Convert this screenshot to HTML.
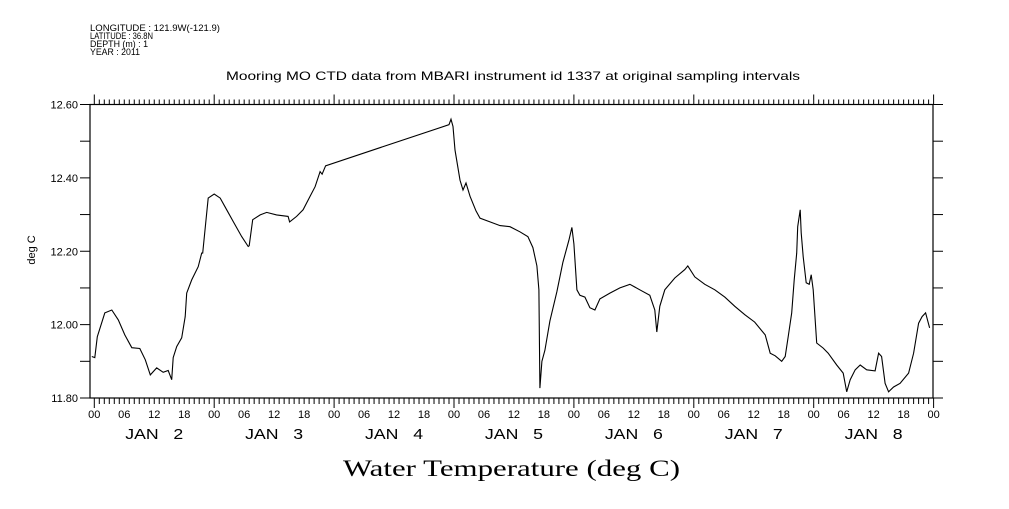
<!DOCTYPE html>
<html><head><meta charset="utf-8"><style>
body{margin:0;background:#fff;}
svg text{font-family:"Liberation Sans",sans-serif;fill:#000;}
</style></head><body>
<svg id="chart" width="1009" height="504" xmlns="http://www.w3.org/2000/svg">
<g>
<text x="90" y="31" textLength="130" lengthAdjust="spacingAndGlyphs" style="font-size:9px">LONGITUDE : 121.9W(-121.9)</text>
<text x="90" y="39" textLength="63" lengthAdjust="spacingAndGlyphs" style="font-size:9px">LATITUDE : 36.8N</text>
<text x="90" y="47" textLength="58" lengthAdjust="spacingAndGlyphs" style="font-size:9px">DEPTH (m) : 1</text>
<text x="90" y="55" textLength="50" lengthAdjust="spacingAndGlyphs" style="font-size:9px">YEAR : 2011</text>
</g>
<text x="226" y="80" textLength="574" lengthAdjust="spacingAndGlyphs" style="font-size:12px">Mooring MO CTD data from MBARI instrument id 1337 at original sampling intervals</text>
<text transform="translate(35,250) rotate(-90)" text-anchor="middle" style="font-size:11px">deg C</text>
<text x="343" y="476" textLength="337" lengthAdjust="spacingAndGlyphs" style="font-family:'Liberation Serif',serif;font-size:23px">Water Temperature (deg C)</text>
<g id="axes"></g>
<g id="marks"></g>
</svg>
<script>
const hours=[-0.5,0.1,0.6,2.1,3.5,4.8,6.1,7.5,9.1,10.2,11.2,12.5,13.8,14.8,15.5,15.8,16.5,17.5,18.2,18.5,19.5,20.8,21.5,21.7,22.3,22.8,24.0,25.2,26.5,27.8,29.5,30.8,31.0,31.7,33.2,34.5,36.5,38.8,39.1,40.5,41.8,43.2,44.2,45.2,45.6,46.3,71.0,71.4,71.8,72.2,73.2,73.8,74.4,75.2,76.4,77.2,79.2,81.2,83.2,85.2,86.8,87.8,88.6,89.0,89.2,89.6,90.2,91.2,92.6,93.8,95.0,95.6,96.0,96.6,97.2,98.2,99.2,100.2,101.2,103.2,105.2,107.2,109.2,111.2,112.2,112.6,113.2,114.2,116.2,118.2,118.8,120.2,122.2,124.2,126.2,128.2,130.2,132.2,134.3,135.3,136.3,137.6,138.3,138.9,139.6,140.1,140.6,140.8,141.3,141.5,141.9,142.5,143.1,143.5,143.9,144.6,145.9,146.9,148.6,149.9,150.6,151.3,152.3,153.3,154.6,156.3,157.0,157.6,158.3,159.0,160.0,161.3,163.0,164.0,165.0,165.7,166.4,167.2];
const temps=[11.913,11.91,11.967,12.032,12.04,12.013,11.972,11.937,11.935,11.904,11.863,11.882,11.87,11.875,11.85,11.91,11.94,11.964,12.022,12.086,12.122,12.158,12.195,12.195,12.277,12.345,12.356,12.345,12.313,12.281,12.24,12.213,12.215,12.286,12.299,12.306,12.299,12.295,12.28,12.295,12.313,12.35,12.376,12.417,12.41,12.433,12.545,12.56,12.54,12.476,12.394,12.367,12.386,12.35,12.31,12.29,12.28,12.27,12.267,12.253,12.24,12.21,12.16,12.095,11.827,11.9,11.93,12.01,12.09,12.17,12.23,12.265,12.22,12.095,12.08,12.075,12.046,12.04,12.07,12.086,12.1,12.11,12.095,12.08,12.04,11.98,12.05,12.095,12.127,12.15,12.16,12.13,12.11,12.095,12.075,12.05,12.027,12.007,11.972,11.922,11.915,11.9,11.913,11.967,12.032,12.122,12.195,12.267,12.313,12.25,12.185,12.114,12.11,12.136,12.095,11.95,11.936,11.922,11.89,11.868,11.817,11.85,11.877,11.89,11.877,11.874,11.922,11.913,11.84,11.817,11.83,11.84,11.868,11.922,12.004,12.022,12.032,11.991];
const yTicks=[11.8,11.9,12.0,12.1,12.2,12.3,12.4,12.5,12.6];
const yLabels=["11.80","","12.00","","12.20","","12.40","","12.60"];
const dayLabels=["JAN   2","JAN   3","JAN   4","JAN   5","JAN   6","JAN   7","JAN   8"];
const hourLabels=["00","06","12","18"];

const L=90,R=933,T=104.5,B=398,X0=94.3,PXH=119.9/24;
const xs=h=>X0+h*PXH;
const ys=v=>B-(v-11.8)/0.8*(B-T);
const NS="http://www.w3.org/2000/svg";
const axes=document.getElementById('axes');
function mk(tag,attrs,parent){const e=document.createElementNS(NS,tag);for(const k in attrs)e.setAttribute(k,attrs[k]);parent.appendChild(e);return e;}
const frame=mk('rect',{x:L,y:T,width:R-L,height:B-T,fill:'none',stroke:'#000','stroke-width':1.2},axes);


yTicks.forEach((v,i)=>{
  const y=ys(v);
  const t=mk('line',{x1:L-10,x2:L,y1:y,y2:y,stroke:'#000'},axes);
  
  
  const t2=mk('line',{x1:R,x2:R+10,y1:y,y2:y,stroke:'#000'},axes);
  
  
  if(yLabels[i]){
    const tx=mk('text',{x:L-12,y:y+4,'text-anchor':'end',style:'font-size:11px'},axes);
    tx.textContent=yLabels[i];
    
    
  }
});
for(let h=0;h<=168;h++){
  const x=xs(h);const major=h%24===0;
  const a=mk('line',{x1:x,x2:x,y1:T,y2:T-(major?10:5),stroke:'#000'},axes);
  
  
  const b=mk('line',{x1:x,x2:x,y1:B,y2:B+(major?10:6),stroke:'#000'},axes);
  
  
  if(h%6===0){
    const tx=mk('text',{x:x,y:418,'text-anchor':'middle',style:'font-size:11px'},axes);
    tx.textContent=hourLabels[(h/6)%4];
    
    
  }
}
dayLabels.forEach((d,i)=>{
  const tx=mk('text',{x:xs(i*24+12)-29,y:439,textLength:58,lengthAdjust:'spacingAndGlyphs',style:'font-size:15px;white-space:pre'},axes);
  tx.textContent=d;
  tx.setAttribute('xml:space','preserve');
  
  
});
const pts=hours.map((h,i)=>xs(h).toFixed(1)+','+ys(temps[i]).toFixed(1)).join(' ');
const line=mk('polyline',{points:pts,fill:'none',stroke:'#000','stroke-width':1.1},document.getElementById('marks'));


</script>
</body></html>
